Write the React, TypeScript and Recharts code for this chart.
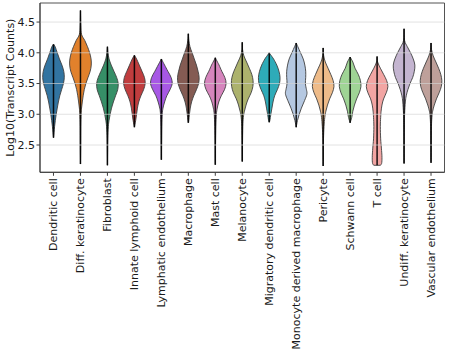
import { ComposedChart, Bar, XAxis, YAxis, ReferenceLine, ReferenceArea } from 'recharts';

// Violin plot: Log10(Transcript Counts) per cell type

const cellTypes = [
  'Dendritic cell',
  'Diff. keratinocyte',
  'Fibroblast',
  'Innate lymphoid cell',
  'Lymphatic endothelium',
  'Macrophage',
  'Mast cell',
  'Melanocyte',
  'Migratory dendritic cell',
  'Monocyte derived macrophage',
  'Pericyte',
  'Schwann cell',
  'T cell',
  'Undiff. keratinocyte',
  'Vascular endothelium',
];

// desaturated (0.75) category palette
const violinColors = [
  '#3274a1', '#e1812c', '#368f67', '#c03d3e', '#a758e5',
  '#845b53', '#d685bd', '#acb26d', '#2eabb8', '#b5c8e1',
  '#eebb89', '#9fd495', '#f2a5a3', '#c4b5d0', '#bea09a',
];

const rangeMin = [2.62, 2.19, 2.17, 2.79, 2.26, 2.86, 2.18, 2.23, 2.87, 2.79, 2.16, 2.86, 2.17, 2.2, 2.21];
const rangeMax = [4.14, 4.69, 4.1, 3.96, 3.9, 4.31, 3.92, 4.17, 4.0, 4.16, 4.08, 3.93, 3.94, 4.39, 4.16];

// [value, relative half-width] from top to bottom
const densityProfiles: number[][][] = [
  [[4.14, 0], [4.1, 0.15], [4.0, 0.35], [3.9, 0.55], [3.8, 0.78], [3.7, 0.95], [3.6, 1.0], [3.5, 0.92], [3.4, 0.75], [3.3, 0.58], [3.2, 0.45], [3.1, 0.35], [3.0, 0.25], [2.9, 0.17], [2.8, 0.1], [2.7, 0.05], [2.62, 0]],
  [[4.69, 0], [4.45, 0.03], [4.3, 0.1], [4.2, 0.4], [4.1, 0.65], [4.0, 0.85], [3.9, 0.98], [3.8, 1.0], [3.7, 0.9], [3.6, 0.7], [3.5, 0.5], [3.4, 0.35], [3.3, 0.25], [3.2, 0.17], [3.1, 0.1], [3.0, 0.06], [2.8, 0.03], [2.5, 0.02], [2.19, 0]],
  [[4.1, 0], [4.0, 0.05], [3.9, 0.15], [3.8, 0.35], [3.7, 0.6], [3.6, 0.85], [3.5, 1.0], [3.4, 0.95], [3.3, 0.75], [3.2, 0.55], [3.1, 0.38], [3.0, 0.25], [2.9, 0.15], [2.8, 0.08], [2.6, 0.03], [2.4, 0.015], [2.17, 0]],
  [[3.96, 0], [3.9, 0.2], [3.8, 0.45], [3.7, 0.7], [3.6, 0.93], [3.5, 1.0], [3.4, 0.85], [3.3, 0.6], [3.2, 0.4], [3.1, 0.28], [3.0, 0.2], [2.9, 0.12], [2.79, 0]],
  [[3.9, 0], [3.85, 0.15], [3.8, 0.3], [3.7, 0.6], [3.6, 0.9], [3.5, 1.0], [3.4, 0.8], [3.3, 0.5], [3.2, 0.3], [3.1, 0.15], [3.0, 0.08], [2.8, 0.04], [2.5, 0.02], [2.26, 0]],
  [[4.31, 0], [4.2, 0.05], [4.1, 0.15], [4.0, 0.35], [3.9, 0.55], [3.8, 0.75], [3.7, 0.9], [3.6, 1.0], [3.5, 0.95], [3.4, 0.75], [3.3, 0.5], [3.2, 0.3], [3.1, 0.18], [3.0, 0.1], [2.9, 0.04], [2.86, 0]],
  [[3.92, 0], [3.85, 0.2], [3.8, 0.35], [3.7, 0.6], [3.6, 0.88], [3.5, 1.0], [3.4, 0.85], [3.3, 0.55], [3.2, 0.32], [3.1, 0.18], [3.0, 0.1], [2.8, 0.05], [2.5, 0.02], [2.18, 0]],
  [[4.17, 0], [4.05, 0.03], [3.95, 0.15], [3.85, 0.4], [3.75, 0.65], [3.65, 0.88], [3.55, 1.0], [3.45, 0.98], [3.35, 0.82], [3.25, 0.55], [3.15, 0.35], [3.05, 0.2], [2.95, 0.1], [2.8, 0.05], [2.5, 0.02], [2.23, 0]],
  [[4.0, 0], [3.95, 0.2], [3.9, 0.4], [3.8, 0.7], [3.7, 0.9], [3.6, 1.0], [3.5, 0.95], [3.4, 0.75], [3.3, 0.5], [3.2, 0.35], [3.1, 0.25], [3.0, 0.15], [2.9, 0.06], [2.87, 0]],
  [[4.16, 0], [4.1, 0.15], [4.0, 0.4], [3.9, 0.65], [3.8, 0.8], [3.7, 0.88], [3.6, 0.88], [3.5, 0.85], [3.4, 0.95], [3.35, 1.0], [3.3, 0.95], [3.2, 0.72], [3.1, 0.48], [3.0, 0.28], [2.9, 0.12], [2.79, 0]],
  [[4.08, 0], [3.95, 0.05], [3.85, 0.2], [3.75, 0.45], [3.65, 0.7], [3.55, 0.92], [3.45, 1.0], [3.35, 0.85], [3.25, 0.6], [3.15, 0.4], [3.05, 0.25], [2.95, 0.15], [2.8, 0.08], [2.6, 0.03], [2.4, 0.015], [2.16, 0]],
  [[3.93, 0], [3.85, 0.25], [3.75, 0.45], [3.65, 0.75], [3.55, 0.95], [3.45, 1.0], [3.35, 0.85], [3.25, 0.6], [3.15, 0.4], [3.05, 0.25], [2.95, 0.15], [2.86, 0]],
  [[3.94, 0], [3.85, 0.05], [3.75, 0.3], [3.65, 0.6], [3.55, 0.88], [3.45, 1.0], [3.35, 0.85], [3.25, 0.6], [3.15, 0.45], [3.05, 0.37], [2.95, 0.33], [2.8, 0.3], [2.6, 0.33], [2.45, 0.4], [2.3, 0.45], [2.2, 0.42], [2.17, 0.3]],
  [[4.39, 0], [4.2, 0.05], [4.1, 0.3], [4.0, 0.6], [3.9, 0.85], [3.8, 1.0], [3.7, 0.95], [3.6, 0.8], [3.5, 0.55], [3.4, 0.35], [3.3, 0.2], [3.2, 0.12], [3.0, 0.05], [2.7, 0.02], [2.2, 0]],
  [[4.16, 0], [4.05, 0.05], [3.95, 0.2], [3.85, 0.45], [3.75, 0.7], [3.65, 0.9], [3.55, 1.0], [3.45, 0.95], [3.35, 0.75], [3.25, 0.5], [3.15, 0.3], [3.05, 0.15], [2.95, 0.08], [2.8, 0.04], [2.5, 0.015], [2.21, 0]],
];

const yTicks = [2.5, 3.0, 3.5, 4.0, 4.5];
const Y_DOMAIN: [number, number] = [2.056, 4.81];

const data = cellTypes.map((name, i) => ({
  name,
  range: [rangeMin[i], rangeMax[i]],
  profile: densityProfiles[i],
  color: violinColors[i],
}));

const FONT = '"DejaVu Sans", sans-serif';
const FONT_SIZE = 11;
const HALF_WIDTH = 10.8;
const EDGE = '#3f3f3f';

type Pt = [number, number];

// catmull-rom through the points, as cubic beziers
function smoothPath(pts: Pt[]): string {
  let d = '';
  for (let i = 0; i < pts.length - 1; i++) {
    const p0 = pts[i - 1] ?? pts[i];
    const p1 = pts[i];
    const p2 = pts[i + 1];
    const p3 = pts[i + 2] ?? p2;
    const c1x = p1[0] + (p2[0] - p0[0]) / 6;
    const c1y = p1[1] + (p2[1] - p0[1]) / 6;
    const c2x = p2[0] - (p3[0] - p1[0]) / 6;
    const c2y = p2[1] - (p3[1] - p1[1]) / 6;
    d += `C${c1x},${c1y} ${c2x},${c2y} ${p2[0]},${p2[1]}`;
  }
  return d;
}

function ViolinShape(props: any) {
  const { x, y, width, height, payload } = props;
  if (!payload) return null;
  const top = Math.min(y, y + height);
  const bottom = Math.max(y, y + height);
  const [lo, hi] = payload.range;
  const toPx = (v: number) => top + ((hi - v) / (hi - lo)) * (bottom - top);
  const cx = x + width / 2;
  const prof: number[][] = payload.profile;
  const right: Pt[] = prof.map(([v, w]) => [cx + w * HALF_WIDTH, toPx(v)]);
  const left: Pt[] = prof
    .slice()
    .reverse()
    .map(([v, w]) => [cx - w * HALF_WIDTH, toPx(v)]);
  const d =
    `M${right[0][0]},${right[0][1]}` +
    smoothPath(right) +
    `L${left[0][0]},${left[0][1]}` +
    smoothPath(left) +
    'Z';
  return (
    <g>
      <path d={d} fill={payload.color} stroke={EDGE} strokeWidth={0.9} />
      <line x1={cx} x2={cx} y1={top} y2={bottom} stroke="#000" strokeWidth={1.5} strokeOpacity={0.9} />
    </g>
  );
}

function CategoryTick(props: any) {
  const { x, y, payload } = props;
  return (
    <text
      transform={`translate(${x},${y + 0.5}) rotate(-90)`}
      textAnchor="end"
      dominantBaseline="central"
      fontSize={FONT_SIZE}
      fontFamily={FONT}
      fill="#1a1a1a"
    >
      {payload.value}
    </text>
  );
}

export default function App() {
  return (
    <div style={{ position: 'absolute', left: 0, top: 0, width: 450, height: 351, background: '#fff' }}>
      <ComposedChart
        width={450}
        height={351}
        data={data}
        margin={{ top: 3, right: 5.5, bottom: 0, left: 0 }}
        barCategoryGap={2}
      >
        <XAxis
          dataKey="name"
          interval={0}
          height={178.7}
          tick={<CategoryTick />}
          tickSize={3.5}
          tickMargin={2}
          tickLine={{ stroke: EDGE }}
          axisLine={{ stroke: EDGE }}
        />
        <YAxis
          domain={Y_DOMAIN}
          allowDataOverflow
          ticks={yTicks}
          tickFormatter={(v: number) => v.toFixed(1)}
          width={40}
          tickSize={3.5}
          tickMargin={1.5}
          tickLine={{ stroke: EDGE }}
          axisLine={{ stroke: EDGE }}
          tick={{ fontSize: FONT_SIZE, fontFamily: FONT, fill: '#1a1a1a' }}
          label={{
            value: 'Log10(Transcript Counts)',
            angle: -90,
            position: 'insideLeft',
            dx: 5,
            style: { textAnchor: 'middle', fontSize: FONT_SIZE, fontFamily: FONT, fill: '#1a1a1a' },
          }}
        />
        <Bar dataKey="range" isAnimationActive={false} shape={(p: any) => <ViolinShape {...p} />} />
        {yTicks.map((t) => (
          <ReferenceLine key={t} y={t} stroke="#d4d4d4" strokeOpacity={0.75} strokeWidth={0.9} />
        ))}
        <ReferenceArea y1={Y_DOMAIN[0]} y2={Y_DOMAIN[1]} fill="none" stroke={EDGE} strokeWidth={0.9} />
      </ComposedChart>
    </div>
  );
}
